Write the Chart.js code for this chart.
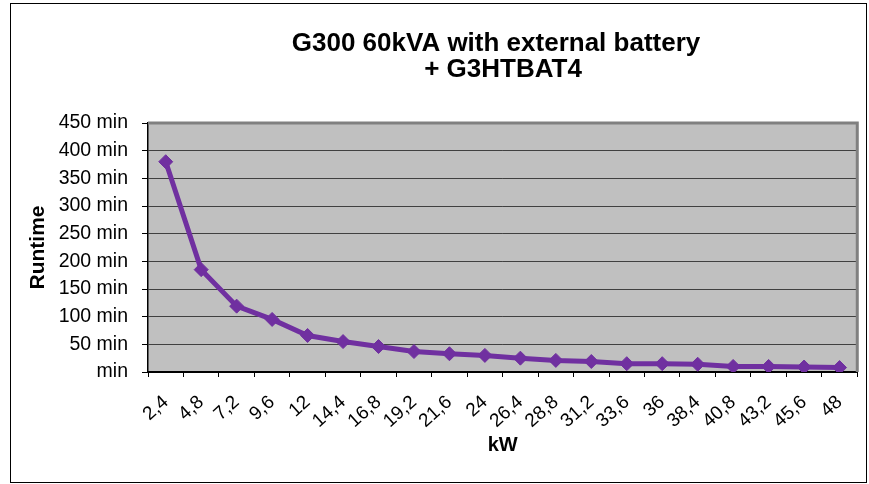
<!DOCTYPE html>
<html>
<head>
<meta charset="utf-8">
<script src="https://cdn.jsdelivr.net/npm/chart.js@4.4.1/dist/chart.umd.min.js"></script>
<style>
  html, body { margin: 0; padding: 0; background: #fff; }
  #chart { display: block; }
</style>
</head>
<body>
<canvas id="chart" width="869" height="484"></canvas>
<script>
// runtime per load step
const kwLabels = ['2,4', '4,8', '7,2', '9,6', '12', '14,4', '16,8', '19,2', '21,6', '24',
                  '26,4', '28,8', '31,2', '33,6', '36', '38,4', '40,8', '43,2', '45,6', '48'];
const runtimeMin = [380, 185, 119, 95, 66, 55, 46, 37, 33, 30,
                    25, 21, 19, 15, 15, 14, 10, 10, 9, 8];
const titleLines = ['G300 60kVA with external battery', '+ G3HTBAT4'];
const yTitle = 'Runtime';
const xTitle = 'kW';

const FONT = 'Arial, "Liberation Sans", sans-serif';

// page background, outer frame, plot fill and the chart title
const frame = {
    id: 'frame',
    beforeDraw(chart) {
        const ctx = chart.ctx;
        const a = chart.chartArea;
        ctx.save();
        ctx.fillStyle = '#ffffff';
        ctx.fillRect(0, 0, chart.width, chart.height);
        ctx.strokeStyle = '#000000';
        ctx.lineWidth = 1;
        ctx.strokeRect(10.5, 3.5, 856, 479);
        ctx.fillStyle = '#c0c0c0';
        ctx.fillRect(a.left, a.top, a.right - a.left, a.bottom - a.top);
        ctx.restore();
    },
    beforeDatasetsDraw(chart) {
        const ctx = chart.ctx;
        const a = chart.chartArea;
        ctx.save();
        ctx.strokeStyle = '#808080';
        ctx.lineWidth = 3;
        ctx.beginPath();
        ctx.moveTo(a.left, a.top);
        ctx.lineTo(a.right, a.top);
        ctx.lineTo(a.right, a.bottom);
        ctx.stroke();
        ctx.restore();
    },
    afterDraw(chart) {
        const ctx = chart.ctx;
        ctx.save();
        ctx.fillStyle = '#000000';
        ctx.font = 'bold 26px ' + FONT;
        ctx.textAlign = 'center';
        ctx.textBaseline = 'alphabetic';
        ctx.fillText(titleLines[0], 496, 51);
        ctx.fillText(titleLines[1], 503, 77);
        ctx.restore();
    }
};

new Chart(document.getElementById('chart'), {
    type: 'line',
    data: {
        labels: kwLabels,
        datasets: [{
            data: runtimeMin,
            borderColor: '#7030a0',
            backgroundColor: '#7030a0',
            borderWidth: 5,
            pointStyle: 'rectRot',
            pointRadius: 7,
            pointBorderWidth: 1,
            pointBackgroundColor: '#7030a0',
            pointBorderColor: '#7030a0',
            tension: 0
        }]
    },
    options: {
        responsive: false,
        animation: false,
        layout: { padding: { top: 123, right: 8, left: 0, bottom: 0 } },
        plugins: {
            legend: { display: false },
            tooltip: { enabled: false },
            title: { display: false }
        },
        scales: {
            x: {
                offset: true,
                afterFit(scale) { scale.height = 112; },
                grid: {
                    offset: true,
                    drawOnChartArea: false,
                    drawTicks: true,
                    tickLength: 5,
                    tickColor: '#000000',
                    tickWidth: 1
                },
                border: { color: '#000000', width: 2 },
                ticks: {
                    autoSkip: false,
                    minRotation: 42,
                    maxRotation: 42,
                    padding: 14,
                    labelOffset: 0,
                    color: '#000000',
                    font: { family: FONT, size: 19 }
                },
                title: {
                    display: true,
                    text: xTitle,
                    color: '#000000',
                    font: { family: FONT, size: 20, weight: 'bold' },
                    padding: { top: 0, bottom: 27 }
                }
            },
            y: {
                min: 0,
                max: 450,
                afterFit(scale) { scale.width = 148; },
                grid: {
                    color: '#404040',
                    lineWidth: 1,
                    drawTicks: true,
                    tickLength: 6,
                    tickColor: '#000000'
                },
                border: { color: '#000000', width: 1.5 },
                ticks: {
                    stepSize: 50,
                    padding: 14,
                    color: '#000000',
                    font: { family: FONT, size: 19.5 },
                    callback: v => (v === 0 ? 'min' : v + ' min')
                },
                title: {
                    display: true,
                    text: yTitle,
                    color: '#000000',
                    font: { family: FONT, size: 21, weight: 'bold' },
                    padding: { top: 26, bottom: 0 }
                }
            }
        }
    },
    plugins: [frame]
});
</script>
</body>
</html>
